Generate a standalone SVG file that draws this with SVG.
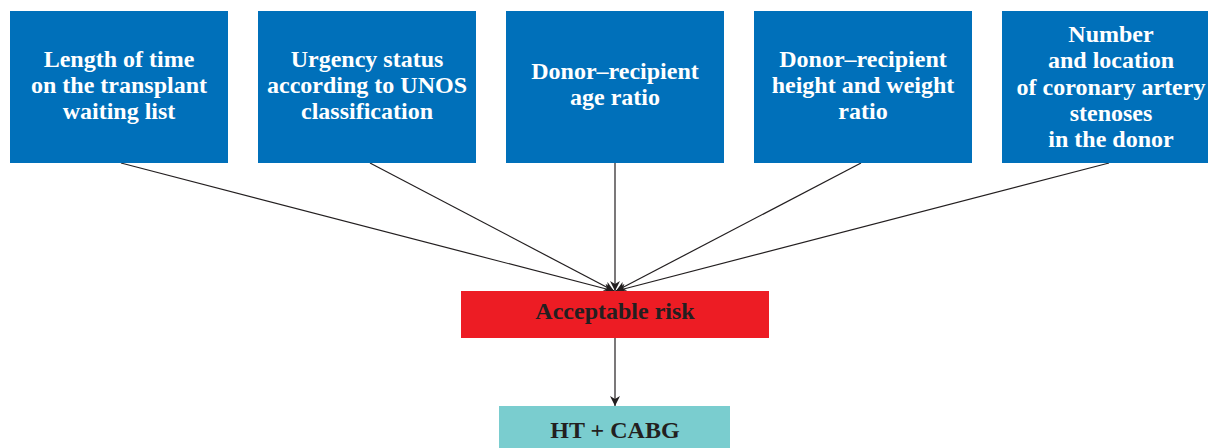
<svg xmlns="http://www.w3.org/2000/svg" width="1208" height="448" viewBox="0 0 1208 448">
<style>
.box{fill:#0070ba}
.t{font-family:"Liberation Serif","Times New Roman",serif;font-weight:bold;font-size:24px;text-anchor:middle}
.w{fill:#ffffff}
.d{fill:#231f20}
.c{stroke:#231f20;stroke-width:1.2;fill:none;marker-end:url(#ah)}
</style>
<defs>
<marker id="ah" viewBox="0 0 10 10" refX="10" refY="5" markerWidth="12" markerHeight="10" markerUnits="userSpaceOnUse" orient="auto">
<path d="M0,0 L10,5 L0,10 L3,5 z" fill="#231f20"/>
</marker>
</defs>
<rect width="1208" height="448" fill="#ffffff"/>
<g id="connectors">
<line class="c" x1="121" y1="163" x2="614" y2="291"/>
<line class="c" x1="370" y1="163" x2="614" y2="291"/>
<line class="c" x1="615" y1="163" x2="615" y2="291"/>
<line class="c" x1="861" y1="163" x2="616" y2="291"/>
<line class="c" x1="1109" y1="163" x2="616" y2="291"/>
<line class="c" x1="615" y1="338" x2="615" y2="406"/>
</g>
<g id="n1">
<rect class="box" x="10" y="11" width="218" height="152"/>
<text class="t w" x="119" y="67">Length of time</text>
<text class="t w" x="119" y="93">on the transplant</text>
<text class="t w" x="119" y="119">waiting list</text>
</g>
<g id="n2">
<rect class="box" x="258" y="11" width="218" height="152"/>
<text class="t w" x="367" y="67">Urgency status</text>
<text class="t w" x="367" y="93">according to UNOS</text>
<text class="t w" x="367" y="119">classification</text>
</g>
<g id="n3">
<rect class="box" x="506" y="11" width="218" height="152"/>
<text class="t w" x="615" y="79">Donor–recipient</text>
<text class="t w" x="615" y="105">age ratio</text>
</g>
<g id="n4">
<rect class="box" x="754" y="11" width="218" height="152"/>
<text class="t w" x="863" y="67">Donor–recipient</text>
<text class="t w" x="863" y="93">height and weight</text>
<text class="t w" x="863" y="119">ratio</text>
</g>
<g id="n5">
<rect class="box" x="1002" y="11" width="218" height="152"/>
<text class="t w" x="1111" y="42">Number</text>
<text class="t w" x="1111" y="68">and location</text>
<text class="t w" x="1111" y="95">of coronary artery</text>
<text class="t w" x="1111" y="121">stenoses</text>
<text class="t w" x="1111" y="147">in the donor</text>
</g>
<g id="risk">
<rect x="461" y="291" width="308" height="47" fill="#ed1c24"/>
<text class="t d" x="615" y="319">Acceptable risk</text>
</g>
<g id="ht">
<rect x="499" y="406" width="231" height="50" fill="#7acdcf"/>
<text class="t d" x="615" y="438">HT + CABG</text>
</g>
</svg>
